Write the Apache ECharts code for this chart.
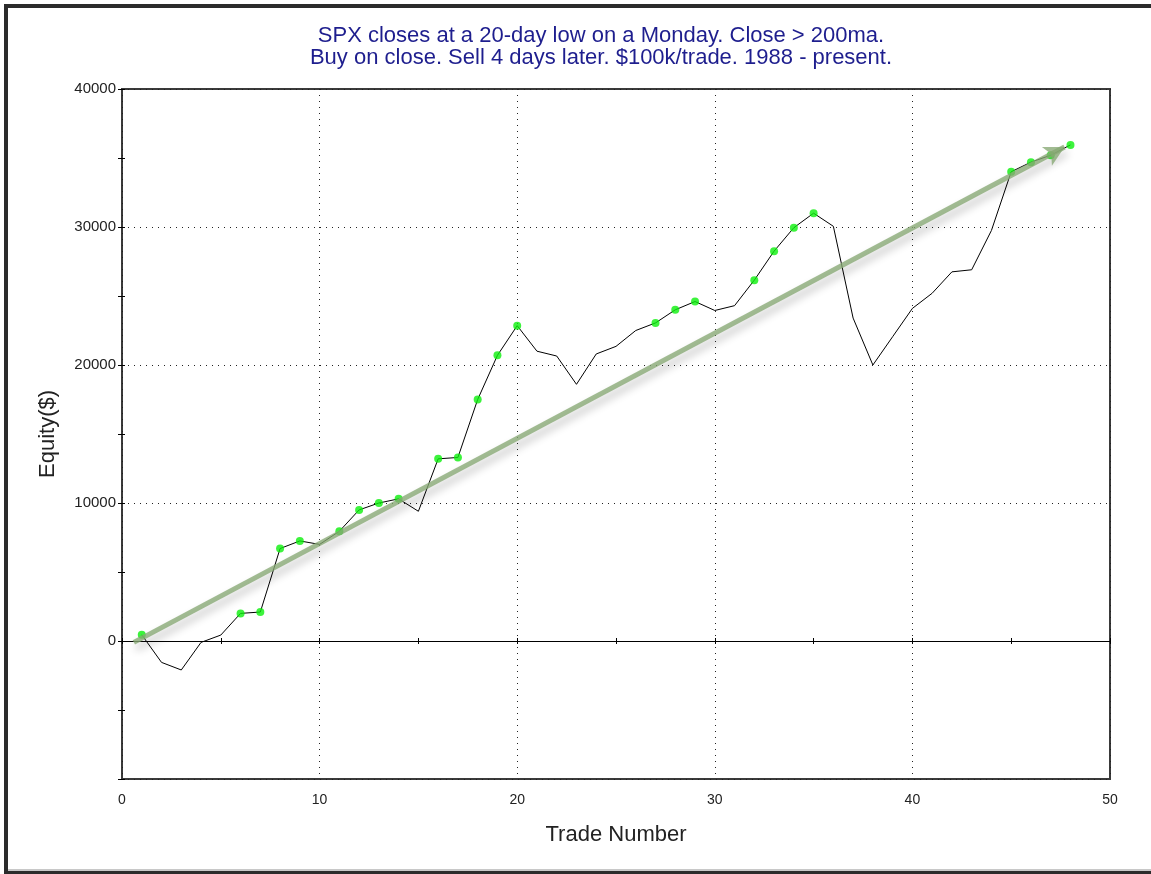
<!DOCTYPE html>
<html><head><meta charset="utf-8">
<script src="https://cdn.jsdelivr.net/npm/echarts@6/dist/echarts.min.js"></script>
<style>html,body{margin:0;padding:0;background:#fff}#c{width:1151px;height:874px}</style>
</head><body><div id="c"></div>
<script>
const titleLines = [
  'SPX closes at a 20-day low on a Monday. Close > 200ma.',
  'Buy on close. Sell 4 days later. $100k/trade. 1988 - present.'
];
const xAxisName = 'Trade Number';
const yAxisName = 'Equity($)';
const trades = [1,2,3,4,5,6,7,8,9,10,11,12,13,14,15,16,17,18,19,20,21,22,23,24,25,26,27,28,29,30,31,32,33,34,35,36,37,38,39,40,41,42,43,44,45,46,47,48];
const equity = [450,-1550,-2100,-100,430,2000,2100,6700,7250,7000,7950,9500,10000,10300,9400,13200,13300,17500,20700,22850,21000,20650,18600,20800,21350,22500,23050,24000,24600,23950,24300,26150,28250,29950,31000,30050,23400,20000,22050,24100,25200,26750,26900,29750,34000,34700,35200,35950];
const newHighTrades = [1,6,7,8,9,11,12,13,14,16,17,18,19,20,27,28,29,32,33,34,35,45,46,47,48];
const xMin = 0, xMax = 50, xStep = 10;
const yMin = -10000, yMax = 40000, yStep = 10000;
const hiddenYLabels = [-10000];
const trendStart = [0.6, -100];
const trendEnd = [47.7, 35800];

const lineData = trades.map((t, i) => [t, equity[i]]);
const highData = newHighTrades.map(t => [t, equity[trades.indexOf(t)]]);

const font = 'Liberation Sans, Arial, sans-serif';
const dotted = { type: [1, 5], color: '#222', width: 1 };

const chart = echarts.init(document.getElementById('c'), null, { renderer: 'canvas' });
chart.setOption({
  animation: false,
  backgroundColor: '#fff',
  textStyle: { fontFamily: font },
  title: {
    text: titleLines.join('\n'),
    left: 596, top: 20, textAlign: 'center',
    textStyle: { fontFamily: font, fontSize: 22, fontWeight: 'normal', color: '#1e1e8e', lineHeight: 22 }
  },
  grid: { left: 122, top: 89, right: 41, bottom: 95, show: true, borderColor: '#3a3a3a', borderWidth: 2, backgroundColor: 'transparent' },
  xAxis: [
    {
      type: 'value', min: xMin, max: xMax, interval: xStep, position: 'bottom',
      axisLine: { show: false, onZero: false }, axisTick: { show: false },
      axisLabel: { fontSize: 14, color: '#222', margin: 14, fontFamily: font },
      splitLine: { show: true, lineStyle: dotted },
      name: xAxisName, nameLocation: 'middle', nameGap: 45,
      nameTextStyle: { fontSize: 22, color: '#222', fontFamily: font }
    },
    {
      type: 'value', min: xMin, max: xMax, interval: xStep, position: 'bottom',
      axisLine: { show: true, onZero: true, onZeroAxisIndex: 0, lineStyle: { color: '#000', width: 1 } },
      axisTick: { show: true, inside: false, length: 3, lineStyle: { color: '#000' } },
      minorTick: { show: true, splitNumber: 2, length: 3, lineStyle: { color: '#000' } },
      axisLabel: { show: false }, splitLine: { show: false }
    },
    {
      type: 'value', min: xMin, max: xMax, interval: xStep, position: 'bottom',
      axisLine: { show: false, onZero: true, onZeroAxisIndex: 0 },
      axisTick: { show: true, inside: true, length: 3, lineStyle: { color: '#000' } },
      minorTick: { show: true, splitNumber: 2, length: 3, lineStyle: { color: '#000' } },
      axisLabel: { show: false }, splitLine: { show: false }
    }
  ],
  yAxis: [
    {
      type: 'value', min: yMin, max: yMax, interval: yStep, position: 'left',
      axisLine: { show: false, onZero: false },
      axisTick: { show: true, inside: false, length: 4, lineStyle: { color: '#000' } },
      minorTick: { show: true, splitNumber: 2, length: 4, lineStyle: { color: '#000' } },
      axisLabel: { fontSize: 15, color: '#222', margin: 6, fontFamily: font,
        formatter: v => hiddenYLabels.includes(v) ? '' : String(v) },
      splitLine: { show: true, lineStyle: dotted },
      name: yAxisName, nameLocation: 'middle', nameGap: 63,
      nameTextStyle: { fontSize: 22, color: '#222', fontFamily: font }
    },
    {
      type: 'value', min: yMin, max: yMax, interval: yStep, position: 'left',
      axisLine: { show: false, onZero: false },
      axisTick: { show: true, inside: true, length: 3, lineStyle: { color: '#000' } },
      minorTick: { show: true, splitNumber: 2, length: 3, lineStyle: { color: '#000' } },
      axisLabel: { show: false }, splitLine: { show: false }
    }
  ],
  graphic: [
    { type: 'rect', shape: { x: 4, y: 4, width: 1147, height: 4 }, style: { fill: '#2b2b2b' }, z: 100 },
    { type: 'rect', shape: { x: 4, y: 4, width: 4, height: 870 }, style: { fill: '#2b2b2b' }, z: 100 },
    { type: 'rect', shape: { x: 8, y: 869, width: 1143, height: 2 }, style: { fill: '#c8c8c8' }, z: 100 },
    { type: 'rect', shape: { x: 4, y: 871, width: 1147, height: 3 }, style: { fill: '#2b2b2b' }, z: 100 }
  ],
  series: [
    {
      type: 'line', data: [], xAxisIndex: 0, yAxisIndex: 0, z: 1, silent: true,
      markLine: {
        silent: true, symbol: ['none', 'arrow'], symbolSize: [16, 20],
        label: { show: false },
        lineStyle: { color: 'rgba(135,168,115,0.78)', width: 5, type: 'solid',
          shadowBlur: 9, shadowColor: 'rgba(0,0,0,0.3)', shadowOffsetX: 2, shadowOffsetY: 6 },
        emphasis: { disabled: true },
        data: [[{ coord: trendStart }, { coord: trendEnd }]]
      }
    },
    {
      type: 'line', data: lineData, xAxisIndex: 0, yAxisIndex: 0, z: 3,
      showSymbol: false, symbol: 'none',
      lineStyle: { color: '#000', width: 1 }
    },
    {
      type: 'scatter', data: highData, xAxisIndex: 0, yAxisIndex: 0, z: 4,
      symbolSize: 8, itemStyle: { color: '#0cf00c' }
    }
  ]
});
</script></body></html>
